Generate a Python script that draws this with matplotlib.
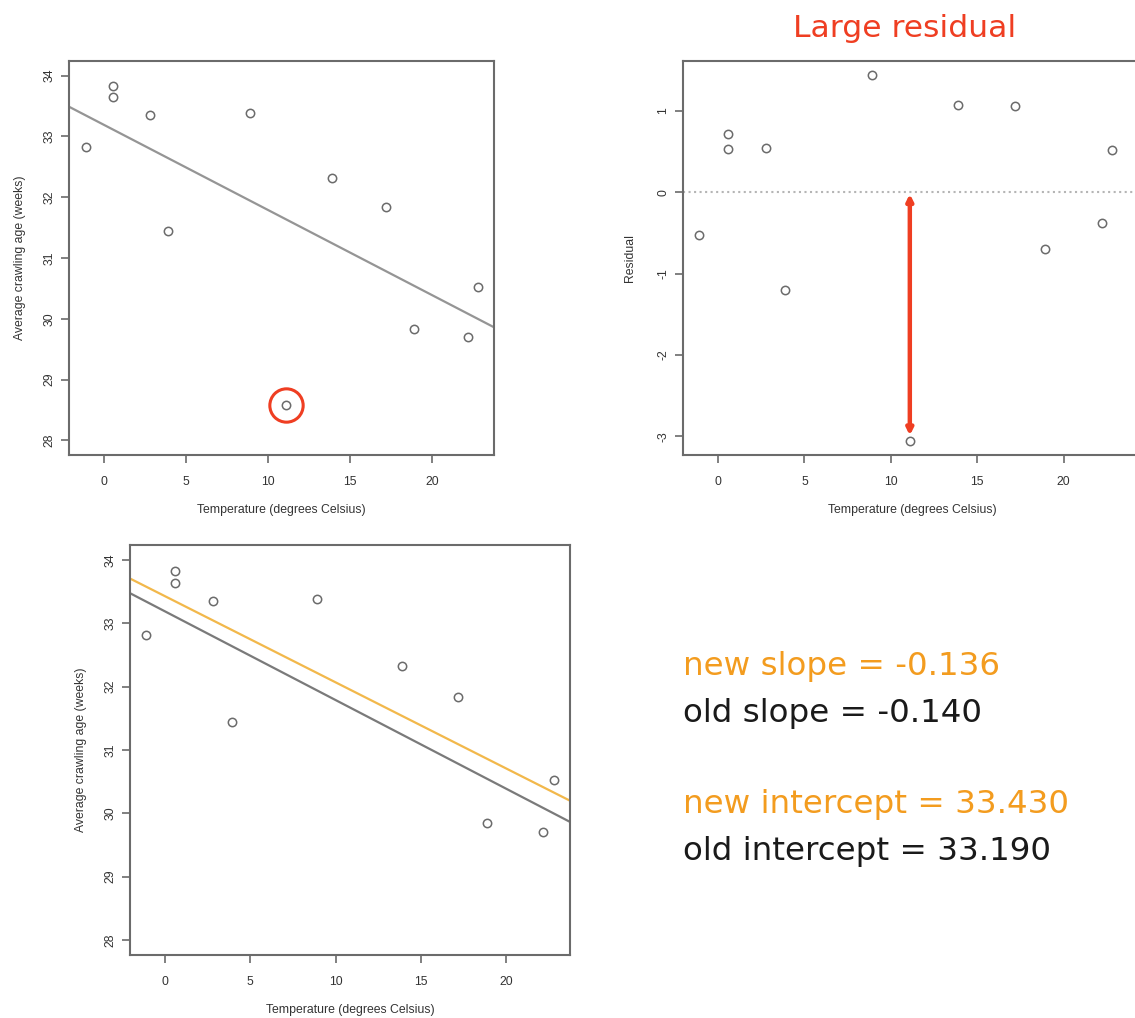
import matplotlib.pyplot as plt
import numpy as np

plt.rcParams['font.family'] = ['Liberation Sans', 'DejaVu Sans']
plt.rcParams['axes.unicode_minus'] = False

# =============================
# data (crawling age vs. temperature)
# =============================
temp = [18.9, 22.8, 22.2, 17.2, 11.1, 3.9, 0.56, -1.1, 0.56, 2.8, 8.9, 13.9]
crawl_age = [29.84, 30.52, 29.70, 31.84, 28.58, 31.44, 33.64, 32.82, 33.83, 33.35, 33.38, 32.32]
residual = [-0.70, 0.52, -0.38, 1.06, -3.06, -1.20, 0.53, -0.52, 0.72, 0.55, 1.44, 1.08]
outlier = 4  # the May point

old_slope, old_icpt = -0.140, 33.190
new_slope, new_icpt = -0.136, 33.430

x_ticks = [0, 5, 10, 15, 20]
age_ticks = [28, 29, 30, 31, 32, 33, 34]
res_ticks = [-3, -2, -1, 0, 1]

W, H = 1135, 1018
GRAY = '#6b6b6b'
RED = '#ef3e22'
ORANGE = '#f39c1f'
ORANGE_LINE = '#f2b84b'

fig = plt.figure(figsize=(W / 100, H / 100), dpi=100)


def px_axes(left, top, right, bottom):
    return fig.add_axes([left / W, 1 - bottom / H, (right - left) / W, (bottom - top) / H])


def r_style(ax, ylabel, ylabelpad):
    for sp in ax.spines.values():
        sp.set_color(GRAY)
        sp.set_linewidth(1.5)
    ax.tick_params(direction='out', length=6, width=1.2, color=GRAY,
                   labelcolor='#333333', labelsize=8.8)
    ax.tick_params(axis='x', pad=9)
    ax.tick_params(axis='y', pad=4)
    for lab in ax.get_yticklabels():
        lab.set_rotation(90)
        lab.set_va('center')
    ax.set_xticks(x_ticks)
    ax.set_xlabel("Temperature (degrees Celsius)", fontsize=8.8, color='#333333', labelpad=12)
    ax.set_ylabel(ylabel, fontsize=8.8, color='#333333', labelpad=ylabelpad)


xs = np.array([-2.06, 24.5])

# ---- top left: scatter with old fit
ax1 = px_axes(69, 61, 494, 455)
ax1.plot(temp, crawl_age, 'o', mfc='none', mec=GRAY, ms=6, mew=1.1)
ax1.plot(xs, old_icpt + old_slope * xs, color='#959595', lw=1.6)
ax1.plot(temp[outlier], crawl_age[outlier], 'o', mfc='none', mec=RED, ms=24, mew=2.2)
ax1.set_xlim(-2.13, 23.78)
ax1.set_ylim(27.76, 34.24)
ax1.set_yticks(age_ticks)
r_style(ax1, "Average crawling age (weeks)", 12)

# ---- top right: residuals
ax2 = px_axes(683, 61, 1142, 455)
ax2.plot(temp, residual, 'o', mfc='none', mec=GRAY, ms=6, mew=1.1)
ax2.axhline(0, color='#b5b5b5', ls=':', lw=1.5)
ax2.annotate('', xy=(temp[outlier], residual[outlier] + 0.07), xytext=(temp[outlier], -0.02),
             arrowprops=dict(arrowstyle='<|-|>', color=RED, lw=3.2, mutation_scale=9,
                             shrinkA=0, shrinkB=0))
ax2.set_xlim(-2.03, 24.54)
ax2.set_ylim(-3.23, 1.615)
ax2.set_yticks(res_ticks)
ax2.spines['right'].set_visible(False)
r_style(ax2, "Residual", 15)

fig.text(905 / W, 1 - 37 / H, "Large residual", color=RED, fontsize=22.6,
         ha='center', va='baseline', family='DejaVu Sans')

# ---- bottom left: old and new fits
ax3 = px_axes(130, 545, 570, 955)
pts = [i for i in range(len(temp)) if i != outlier]
ax3.plot([temp[i] for i in pts], [crawl_age[i] for i in pts], 'o', mfc='none', mec=GRAY, ms=6, mew=1.1)
ax3.plot(xs, old_icpt + old_slope * xs, color='#7a7a7a', lw=1.6)
ax3.plot(xs, new_icpt + new_slope * xs, color=ORANGE_LINE, lw=1.6)
ax3.set_xlim(-2.06, 23.76)
ax3.set_ylim(27.76, 34.24)
ax3.set_yticks(age_ticks)
r_style(ax3, "Average crawling age (weeks)", 12)

# ---- slope / intercept text
lines = [
    (675, f"new slope = {new_slope:.3f}", ORANGE),
    (722, f"old slope = {old_slope:.3f}", '#1a1a1a'),
    (813, f"new intercept = {new_icpt:.3f}", ORANGE),
    (860, f"old intercept = {old_icpt:.3f}", '#1a1a1a'),
]
for y, s, c in lines:
    fig.text(683 / W, 1 - y / H, s, color=c, fontsize=23.4, ha='left', va='baseline',
             family='DejaVu Sans')

fig.savefig("out.png", dpi=100)
